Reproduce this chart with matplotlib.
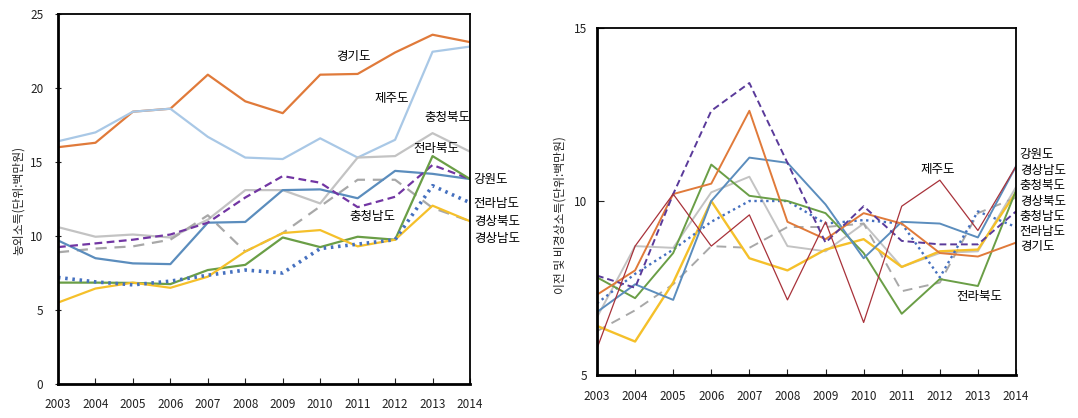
import matplotlib
matplotlib.use("Agg")
import matplotlib.pyplot as plt

plt.rcParams['font.family'] = ['Noto Sans CJK KR', 'DejaVu Sans']

years = list(range(2003, 2015))

# Left chart: 농외소득 (단위: 백만원)
gyeonggi_L = [16.0, 16.3, 18.4, 18.6, 20.9, 19.1, 18.3, 20.9, 20.95, 22.4, 23.6, 23.1]
jeju_L = [16.4, 17.0, 18.4, 18.6, 16.7, 15.3, 15.2, 16.6, 15.3, 16.5, 22.45, 22.8]
chungbuk_L = [10.6, 9.95, 10.1, 9.9, 11.1, 13.1, 13.1, 12.2, 15.3, 15.4, 16.95, 15.7]
jeonbuk_L = [6.85, 6.85, 6.83, 6.75, 7.7, 8.05, 9.9, 9.25, 9.95, 9.75, 15.4, 13.85]
gangwon_L = [9.7, 8.5, 8.15, 8.1, 10.9, 10.95, 13.1, 13.15, 12.55, 14.4, 14.2, 13.85]
chungnam_L = [9.25, 9.5, 9.75, 10.1, 10.9, 12.6, 14.05, 13.6, 11.95, 12.65, 14.8, 13.85]
jeonnam_L = [7.2, 6.9, 6.7, 6.95, 7.35, 7.7, 7.5, 9.15, 9.45, 9.75, 13.4, 12.25]
gyeongbuk_L = [8.9, 9.15, 9.3, 9.75, 11.4, 8.95, 10.2, 12.0, 13.8, 13.8, 11.9, 11.0]
gyeongnam_L = [5.5, 6.45, 6.85, 6.5, 7.25, 8.95, 10.2, 10.4, 9.3, 9.75, 12.05, 11.0]

# Right chart: 이전 및 비경상소득 (단위: 백만원)
gyeonggi_R = [7.3, 8.0, 10.2, 10.5, 12.6, 9.4, 8.9, 9.65, 9.35, 8.5, 8.4, 8.8]
jeju_R = [5.75, 8.7, 10.2, 8.7, 9.6, 7.15, 9.4, 6.5, 9.85, 10.6, 9.15, 11.0]
chungbuk_R = [6.65, 8.7, 8.65, 10.25, 10.7, 8.7, 8.55, 9.35, 8.1, 8.5, 8.55, 10.4]
jeonbuk_R = [7.8, 7.2, 8.5, 11.05, 10.15, 10.0, 9.65, 8.5, 6.75, 7.75, 7.55, 10.3]
gangwon_R = [6.8, 7.6, 7.15, 10.0, 11.25, 11.1, 9.9, 8.35, 9.4, 9.35, 8.95, 11.0]
chungnam_R = [7.85, 7.5, 10.2, 12.6, 13.4, 11.1, 8.8, 9.85, 8.85, 8.75, 8.75, 9.7]
jeonnam_R = [7.05, 7.9, 8.6, 9.4, 10.0, 10.0, 9.35, 9.45, 9.35, 7.8, 9.7, 9.25]
gyeongbuk_R = [6.25, 6.85, 7.6, 8.7, 8.65, 9.25, 9.25, 9.35, 7.4, 7.65, 9.65, 10.1]
gyeongnam_R = [6.4, 5.95, 7.65, 10.0, 8.35, 8.0, 8.6, 8.9, 8.1, 8.55, 8.6, 10.25]

left_ylabel = "농외소득(단위:백만원)"
right_ylabel = "이전 및 비경상소득(단위:백만원)"

fig = plt.figure(figsize=(10.78, 4.18), dpi=100)
axL = fig.add_axes([58/1078, (418-384)/418, 412/1078, 370/418])
axR = fig.add_axes([597/1078, (418-374.5)/418, 419/1078, 347/418])

lw = 1.6
left_series = [
    (gyeonggi_L, '#E07A3A', '-', lw),
    (jeju_L, '#A9C8E6', '-', lw),
    (chungbuk_L, '#C3C3C3', '-', lw),
    (gyeongbuk_L, '#A8A8A8', (0, (5, 3.5)), lw),
    (gangwon_L, '#5B8DBD', '-', lw),
    (chungnam_L, '#7236A3', (0, (3.5, 2)), lw),
    (jeonbuk_L, '#6A9E46', '-', lw),
    (gyeongnam_L, '#F5C02A', '-', lw),
    (jeonnam_L, '#4570BF', (0, (0.7, 1.3)), 2.6),
]
for data, c, ls, w in left_series:
    axL.plot(years, data, color=c, linestyle=ls, linewidth=w)

lw2 = 1.4
right_series = [
    (chungbuk_R, '#C3C3C3', '-', lw2),
    (gyeongbuk_R, '#A8A8A8', (0, (5, 3.5)), lw2),
    (gyeongnam_R, '#F5C02A', '-', 1.7),
    (jeonnam_R, '#4570BF', (0, (1, 1.5)), 1.7),
    (jeonbuk_R, '#6A9E46', '-', lw2),
    (gangwon_R, '#5B8DBD', '-', lw2),
    (gyeonggi_R, '#E07A3A', '-', lw2),
    (chungnam_R, '#5A3A9A', (0, (3.5, 2)), lw2),
    (jeju_R, '#A8323A', '-', 0.9),
]
for data, c, ls, w in right_series:
    axR.plot(years, data, color=c, linestyle=ls, linewidth=w)

fs = 8.5
for ax in (axL, axR):
    ax.set_xlim(2003, 2014)
    ax.set_xticks(years)
    for s in ax.spines.values():
        s.set_linewidth(1.3)
    ax.spines['left'].set_linewidth(2)
    ax.spines['bottom'].set_linewidth(2)
    ax.tick_params(axis='x', direction='in', length=4, labelsize=fs, pad=10)
    ax.tick_params(axis='y', direction='inout', length=5, labelsize=fs, pad=8)
    ax.tick_params(colors='#222222')

axL.set_ylim(0, 25)
axL.set_yticks([0, 5, 10, 15, 20, 25])
axR.set_ylim(5, 15)
axR.set_yticks([5, 10, 15])
axR.tick_params(axis='x', pad=11)
axR.tick_params(axis='y', direction='in', pad=7)

fig.text(18/1078, 1 - 200/418, left_ylabel, rotation=90, ha='center', va='center', fontsize=fs, color='#222222')
fig.text(560/1078, 1 - 215/418, right_ylabel, rotation=90, ha='center', va='center', fontsize=fs, color='#222222')

tf = 9
# left chart labels
axL.text(2010.9, 22.1, "경기도", ha='center', va='center', fontsize=tf)
axL.text(2011.9, 19.3, "제주도", ha='center', va='center', fontsize=tf)
axL.text(2014, 18.0, "충청북도", ha='right', va='center', fontsize=tf)
axL.text(2013.1, 15.9, "전라북도", ha='center', va='center', fontsize=tf)
axL.text(2011.4, 11.3, "충청남도", ha='center', va='center', fontsize=tf)
for t, y in [("강원도", 13.8), ("전라남도", 12.2), ("경상북도", 11.0), ("경상남도", 9.8)]:
    axL.text(2014.1, y, t, ha='left', va='center', fontsize=tf, clip_on=False)

# right chart labels
axR.text(2011.95, 10.92, "제주도", ha='center', va='center', fontsize=tf)
axR.text(2013.05, 7.24, "전라북도", ha='center', va='center', fontsize=tf)
for t, y in [("강원도", 11.33), ("경상남도", 10.87), ("충청북도", 10.45), ("경상북도", 9.98),
             ("충청남도", 9.55), ("전라남도", 9.12), ("경기도", 8.68)]:
    axR.text(2014.1, y, t, ha='left', va='center', fontsize=tf, clip_on=False)

fig.savefig("out.png", dpi=100)
